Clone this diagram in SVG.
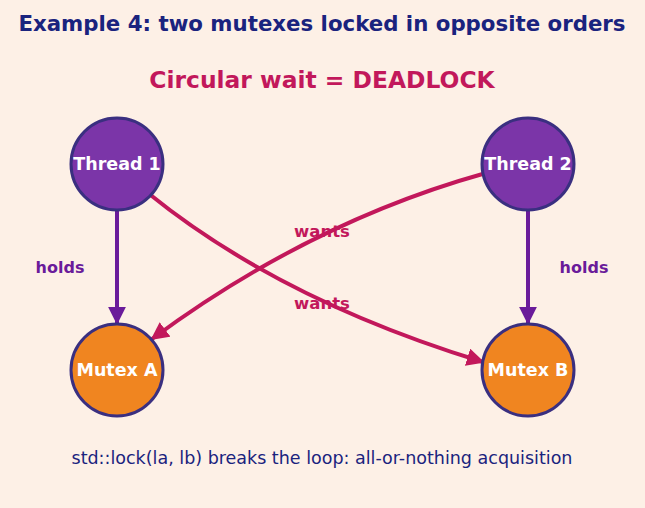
<svg xmlns="http://www.w3.org/2000/svg" width="645" height="508" viewBox="0 0 645 508">
<defs>
<style>
text{font-family:"DejaVu Sans",sans-serif;text-anchor:middle;dominant-baseline:central}
.title{font-size:21.3px;font-weight:bold;fill:#1a237e}
.sub{font-size:23.4px;font-weight:bold;fill:#c2185b}
.foot{font-size:17.5px;fill:#1a237e}
.lbl{font-size:17.5px;font-weight:bold;fill:#ffffff}
.holds{font-size:16px;font-weight:bold;fill:#6a1b9a}
.wants{font-size:16.5px;font-weight:bold;fill:#c2185b}
.thread{fill:#7b35a8;stroke:#3a2f80;stroke-width:3}
.mutex{fill:#f08520;stroke:#3a2f80;stroke-width:3}
.h{stroke:#6a1b9a;stroke-width:4;fill:none}
.w{stroke:#c2185b;stroke-width:4;fill:none}
</style>
<marker id="ah" viewBox="0 0 10 10" refX="9" refY="5" markerWidth="4.5" markerHeight="4.5" orient="auto" markerUnits="strokeWidth"><path d="M0,0 L10,5 L0,10 z" fill="#6a1b9a"/></marker>
<marker id="aw" viewBox="0 0 10 10" refX="9" refY="5" markerWidth="4.5" markerHeight="4.5" orient="auto" markerUnits="strokeWidth"><path d="M0,0 L10,5 L0,10 z" fill="#c2185b"/></marker>
</defs>
<rect width="645" height="508" fill="#fdf0e6"/>
<text class="title" x="322" y="23">Example 4: two mutexes locked in opposite orders</text>
<text class="sub" x="322" y="80">Circular wait = DEADLOCK</text>
<g id="connectors">
<path class="h" d="M117,207 L117,323" marker-end="url(#ah)"/>
<path class="h" d="M528,207 L528,323" marker-end="url(#ah)"/>
<path class="w" d="M148,193 Q280,300 483,362" marker-end="url(#aw)"/>
<path class="w" d="M486,173 Q310,222 152,339" marker-end="url(#aw)"/>
<text class="holds" x="60" y="267">holds</text>
<text class="holds" x="584" y="267">holds</text>
<text class="wants" x="322" y="231">wants</text>
<text class="wants" x="322" y="303">wants</text>
</g>
<g id="thread1"><circle class="thread" cx="117" cy="164" r="46"/><text class="lbl" x="117" y="164">Thread 1</text></g>
<g id="thread2"><circle class="thread" cx="528" cy="164" r="46"/><text class="lbl" x="528" y="164">Thread 2</text></g>
<g id="mutexA"><circle class="mutex" cx="117" cy="370" r="46"/><text class="lbl" x="117" y="370">Mutex A</text></g>
<g id="mutexB"><circle class="mutex" cx="528" cy="370" r="46"/><text class="lbl" x="528" y="370">Mutex B</text></g>
<text class="foot" x="322" y="458">std::lock(la, lb) breaks the loop: all-or-nothing acquisition</text>
</svg>
